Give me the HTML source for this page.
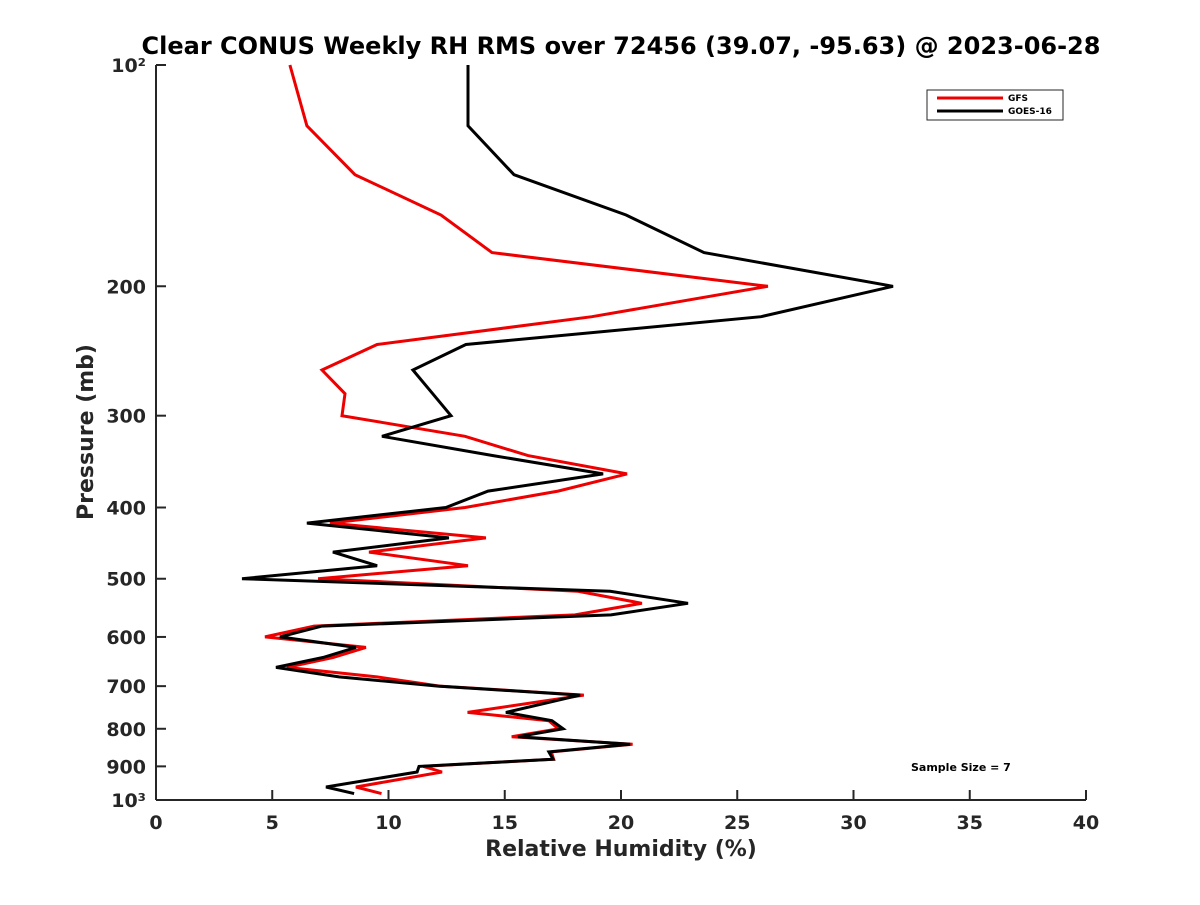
<!DOCTYPE html>
<html><head><meta charset="utf-8"><style>
body{margin:0;background:#fff;font-family:"Liberation Sans","DejaVu Sans",sans-serif}
svg text{font-family:"DejaVu Sans","Liberation Sans",sans-serif;font-weight:bold;fill:#262626}
</style></head><body>
<svg id="chart" width="1200" height="900" xmlns="http://www.w3.org/2000/svg">
<rect width="1200" height="900" fill="#fff"/>
<text x="621" y="54" text-anchor="middle" font-size="24" style="fill:#000">Clear CONUS Weekly RH RMS over 72456 (39.07, -95.63) @ 2023-06-28</text>
<g id="axes"></g>
<g id="series"></g>
<text x="621" y="856" text-anchor="middle" font-size="22">Relative Humidity (%)</text>
<text transform="translate(93,432) rotate(-90)" text-anchor="middle" font-size="22">Pressure (mb)</text>
<g>
<rect x="927" y="90" width="136" height="30" fill="#fff" stroke="#262626" stroke-width="1"/>
<line x1="937" y1="98" x2="1003" y2="98" stroke="#e00" stroke-width="3"/>
<text x="1008" y="101" font-size="9" style="fill:#000">GFS</text>
<line x1="937" y1="111" x2="1003" y2="111" stroke="#000" stroke-width="3"/>
<text x="1008" y="114" font-size="9" style="fill:#000">GOES-16</text>
</g>
<text x="911" y="771" font-size="11" style="fill:#000">Sample Size = 7</text>
</svg>
<script>
const xTicks=[0,5,10,15,20,25,30,35,40];
const yTickVals=[100,200,300,400,500,600,700,800,900,1000];
const yTickLabels=["10²","200","300","400","500","600","700","800","900","10³"];
const pressures=[100,121,141,160,180,200,220,240,260,280,300,320,340,360,380,400,420,440,460,480,500,520,540,560,580,600,620,640,660,680,700,720,760,780,800,820,840,860,880,900,916,960,980];
const goesRH=[13.42,13.42,15.4,20.22,23.57,31.7,26.02,13.33,11.05,11.9,12.69,9.72,14.5,19.23,14.28,12.47,6.49,12.6,7.61,9.51,3.7,19.53,22.88,19.57,7.14,5.33,8.6,7.18,5.16,7.87,12.13,18.24,15.05,17.03,17.51,15.57,20.39,16.9,17.08,11.31,11.23,7.31,8.52];
const gfsRH=[5.76,6.49,8.56,12.26,14.45,26.32,18.75,9.51,7.14,8.13,8.0,13.29,16.0,20.26,17.29,13.29,7.48,14.19,9.16,13.42,6.97,18.15,20.9,18.02,6.8,4.69,9.03,7.61,5.63,9.5,12.2,18.4,13.4,16.9,17.3,15.3,20.5,17.0,17.1,11.5,12.3,8.6,9.7];
const X0=156,X1=1086,Y0=65,Y1=800;
const xs=v=>X0+(v-0)/(40-0)*(X1-X0);
const ys=p=>Y0+Math.log10(p/100)*(Y1-Y0);
const NS="http://www.w3.org/2000/svg";
const ax=document.getElementById('axes');
function mk(t,a,parent){const e=document.createElementNS(NS,t);for(const k in a)e.setAttribute(k,a[k]);parent.appendChild(e);return e;}
let l=mk('line',{x1:X0,y1:Y1,x2:X1,y2:Y1,stroke:'#262626','stroke-width':2},ax);


l=mk('line',{x1:X0,y1:Y0,x2:X0,y2:Y1,stroke:'#262626','stroke-width':2},ax);


xTicks.forEach(v=>{
 const t=mk('line',{x1:xs(v),y1:Y1,x2:xs(v),y2:Y1-10,stroke:'#262626','stroke-width':2},ax);
 
 
 const tx=mk('text',{x:xs(v),y:Y1+29,'text-anchor':'middle','font-size':19},ax);
 tx.textContent=v;
 
 
});
yTickVals.forEach((p,i)=>{
 const t=mk('line',{x1:X0,y1:ys(p),x2:X0+10,y2:ys(p),stroke:'#262626','stroke-width':2},ax);
 
 
 const tx=mk('text',{x:X0-10,y:ys(p)+7,'text-anchor':'end','font-size':19},ax);
 tx.textContent=yTickLabels[i];
 
 
});
const sg=document.getElementById('series');
function line(vals,color,name){
 const d=vals.map((v,i)=>(i?'L':'M')+xs(v).toFixed(1)+','+ys(pressures[i]).toFixed(1)).join('');
 const p=mk('path',{d:d,fill:'none',stroke:color,'stroke-width':3,'stroke-linejoin':'miter'},sg);
 
 
}
line(gfsRH,'#e00','gfs-line');
line(goesRH,'#000','goes16-line');
</script>
</body></html>
